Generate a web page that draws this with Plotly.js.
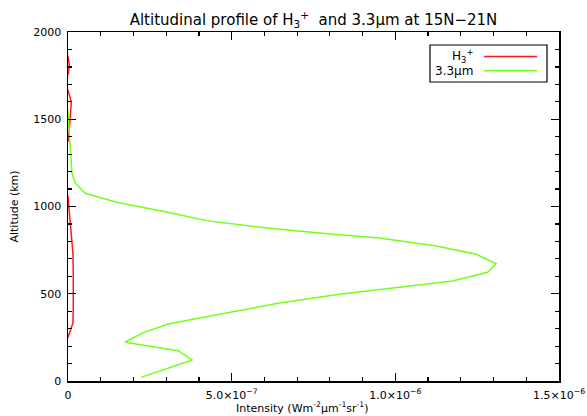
<!DOCTYPE html>
<html>
<head>
<meta charset="utf-8">
<script src="https://cdn.plot.ly/plotly-3.0.1.min.js"></script>
<style>html,body{margin:0;padding:0;background:#fff;}#chart{width:587px;height:416px;}</style>
</head>
<body>
<div id="chart"></div>
<script>
// H3+ intensity profile (W m^-2 um^-1 sr^-1) vs altitude (km)
const h3Altitude = [200, 254, 292, 332, 420, 504, 620, 733, 848, 1000, 1056, 1100, 1340, 1381, 1450, 1515, 1593, 1630, 1668, 1720, 1765, 1810, 1858, 1900];
const h3Intensity = [-1.0e-8, 0, 0.9e-8, 1.5e-8, 1.62e-8, 1.68e-8, 1.6e-8, 1.5e-8, 0.9e-8, 0.15e-8, 0, -1.0e-8, -1.0e-8, 0.15e-8, 0.4e-8, 0.6e-8, 1.0e-8, 0.6e-8, 0, -1.0e-8, 0.15e-8, 0.4e-8, 0, -1.0e-8];

// 3.3 um intensity profile
const irAltitude = [21, 120, 174, 222, 277, 327, 372, 447, 497, 573, 623, 672, 726, 774, 819, 842, 875, 919, 964, 1024, 1076, 1135, 1192, 1324, 1543, 1600];
const irIntensity = [2.23e-7, 3.80e-7, 3.37e-7, 1.74e-7, 2.30e-7, 3.06e-7, 4.34e-7, 6.46e-7, 8.29e-7, 1.175e-6, 1.282e-6, 1.308e-6, 1.247e-6, 1.125e-6, 0.952e-6, 0.80e-6, 6.16e-7, 4.23e-7, 3.12e-7, 1.49e-7, 5.2e-8, 2.2e-8, 1.2e-8, 6.7e-9, 0, -1.0e-8];

const xTickVals = [0, 5e-7, 1e-6, 1.5e-6];
const xTickText = ['0', '5.0×10<sup>−7</sup>', '1.0×10<sup>−6</sup>', '1.5×10<sup>−6</sup>'];
const yTickVals = [0, 500, 1000, 1500, 2000];

const seriesNames = ['H<sub>3</sub><sup>+</sup>', '3.3μm'];
const seriesColors = ['#ff1a1a', '#72ff1c'];
const xTitle = 'Intensity (Wm<sup>-2</sup>μm<sup>-1</sup>sr<sup>-1</sup>)';

const font = 'DejaVu Sans, Liberation Sans, sans-serif';

const traces = [
  {x: h3Intensity, y: h3Altitude, mode: 'lines', name: seriesNames[0], line: {color: seriesColors[0], width: 1.5}},
  {x: irIntensity, y: irAltitude, mode: 'lines', name: seriesNames[1], line: {color: seriesColors[1], width: 1.5}}
];

// plot area px: x 68..559, y 32..381
const L = 68, R = 559, T = 32, B = 381;
const px = v => (v - L) / (R - L);
const py = v => (B - v) / (B - T);

const layout = {
  width: 587, height: 416,
  margin: {l: L, r: 587 - R, t: T, b: 416 - B},
  paper_bgcolor: '#fff', plot_bgcolor: '#fff',
  showlegend: false,
  font: {family: font, color: '#000', size: 11},
  title: {text: 'Altitudinal profile of H<sub>3</sub><sup>+</sup>  and 3.3μm at 15N−21N', font: {family: font, size: 15, color: '#000'},
          x: 0.5, xref: 'paper', y: 1 - 20 / 416, yref: 'container', yanchor: 'middle'},
  xaxis: {
    range: [0, 1.5e-6], tickmode: 'array', tickvals: xTickVals, ticktext: xTickText,
    ticks: 'inside', ticklen: 8, tickwidth: 1.2, tickcolor: '#000',
    showline: true, linecolor: '#000', linewidth: 1.5, mirror: 'ticks',
    showgrid: false, zeroline: false, ticklabelstandoff: 3,
    minor: {tickmode: 'linear', tick0: 0, dtick: 1e-7, ticks: 'inside', ticklen: 4, tickcolor: '#000', showgrid: false},
    tickfont: {size: 11}
  },
  yaxis: {
    range: [0, 2000], tickmode: 'array', tickvals: yTickVals,
    ticks: 'inside', ticklen: 8, tickwidth: 1.2, tickcolor: '#000',
    showline: true, linecolor: '#000', linewidth: 1.5, mirror: 'ticks',
    showgrid: false, zeroline: false, ticklabelstandoff: 3,
    minor: {tickmode: 'linear', tick0: 0, dtick: 100, ticks: 'inside', ticklen: 4, tickcolor: '#000', showgrid: false},
    tickfont: {size: 11},
    title: {text: 'Altitude (km)', font: {size: 11}, standoff: 12}
  },
  shapes: [
    {type: 'rect', xref: 'paper', yref: 'paper', x0: px(430), x1: px(547), y0: py(82), y1: py(45), line: {color: '#000', width: 1.2}, fillcolor: '#fff'},
    {type: 'line', xref: 'paper', yref: 'paper', x0: px(484), x1: px(537), y0: py(56.5), y1: py(56.5), line: {color: seriesColors[0], width: 1.5}},
    {type: 'line', xref: 'paper', yref: 'paper', x0: px(484), x1: px(537), y0: py(70.7), y1: py(70.7), line: {color: seriesColors[1], width: 1.5}}
  ],
  annotations: [
    {xref: 'paper', yref: 'paper', x: px(475), y: py(56.5), text: seriesNames[0], showarrow: false, xanchor: 'right', yanchor: 'middle', font: {size: 12}},
    {xref: 'paper', yref: 'paper', x: px(475), y: py(70.7), text: seriesNames[1], showarrow: false, xanchor: 'right', yanchor: 'middle', font: {size: 12}},
    {xref: 'paper', yref: 'paper', x: px(302), y: py(407), text: xTitle, showarrow: false, xanchor: 'center', yanchor: 'middle', font: {size: 11}}
  ]
};

Plotly.newPlot('chart', traces, layout, {staticPlot: true, displayModeBar: false});
</script>
</body>
</html>
